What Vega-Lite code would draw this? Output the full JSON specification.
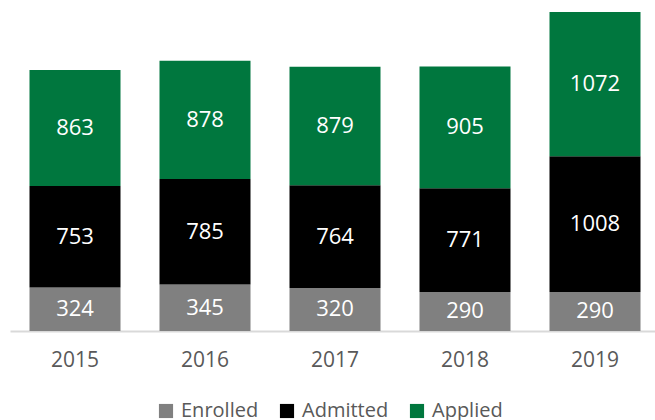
{
  "$schema": "https://vega.github.io/schema/vega-lite/v6.json",
  "autosize": "none",
  "width": 650,
  "height": 331,
  "padding": {"left": 10, "top": 0, "right": 0, "bottom": 89},
  "background": "white",
  "config": {"view": {"stroke": null}, "font": "Open Sans"},
  "data": {
    "values": [
      {"year": "2015", "status": "Enrolled", "order": 1, "count": 324},
      {"year": "2015", "status": "Admitted", "order": 2, "count": 753},
      {"year": "2015", "status": "Applied", "order": 3, "count": 863},
      {"year": "2016", "status": "Enrolled", "order": 1, "count": 345},
      {"year": "2016", "status": "Admitted", "order": 2, "count": 785},
      {"year": "2016", "status": "Applied", "order": 3, "count": 878},
      {"year": "2017", "status": "Enrolled", "order": 1, "count": 320},
      {"year": "2017", "status": "Admitted", "order": 2, "count": 764},
      {"year": "2017", "status": "Applied", "order": 3, "count": 879},
      {"year": "2018", "status": "Enrolled", "order": 1, "count": 290},
      {"year": "2018", "status": "Admitted", "order": 2, "count": 771},
      {"year": "2018", "status": "Applied", "order": 3, "count": 905},
      {"year": "2019", "status": "Enrolled", "order": 1, "count": 290},
      {"year": "2019", "status": "Admitted", "order": 2, "count": 1008},
      {"year": "2019", "status": "Applied", "order": 3, "count": 1072}
    ]
  },
  "encoding": {
    "x": {
      "field": "year", "type": "nominal",
      "scale": {"paddingInner": 0.3, "paddingOuter": 0.15},
      "axis": {
        "title": null, "labelAngle": 0, "labelFontSize": 21, "labelColor": "#595959",
        "labelPadding": 18, "ticks": false, "domainColor": "#d9d9d9", "domainWidth": 2
      }
    },
    "y": {
      "field": "count", "type": "quantitative", "stack": "zero",
      "scale": {"domain": [0, 2460], "nice": false, "zero": true},
      "axis": null
    },
    "order": {"field": "order", "type": "quantitative"}
  },
  "layer": [
    {
      "mark": {"type": "bar"},
      "encoding": {
        "color": {
          "field": "status", "type": "nominal",
          "scale": {"domain": ["Enrolled", "Admitted", "Applied"], "range": ["#808080", "#000000", "#00773E"]},
          "legend": {
            "title": null, "orient": "none", "direction": "horizontal",
            "legendX": 146, "legendY": 401,
            "symbolType": "square", "symbolSize": 200, "symbolStrokeWidth": 0, "symbolOpacity": 1,
            "labelFontSize": 20, "labelColor": "#595959", "columnPadding": 18, "labelOffset": 5
          }
        }
      }
    },
    {
      "mark": {"type": "text", "color": "white", "fontSize": 22, "baseline": "middle"},
      "encoding": {
        "y": {"field": "count", "type": "quantitative", "stack": "zero", "bandPosition": 0.5},
        "text": {"field": "count", "type": "quantitative"}
      }
    }
  ]
}
